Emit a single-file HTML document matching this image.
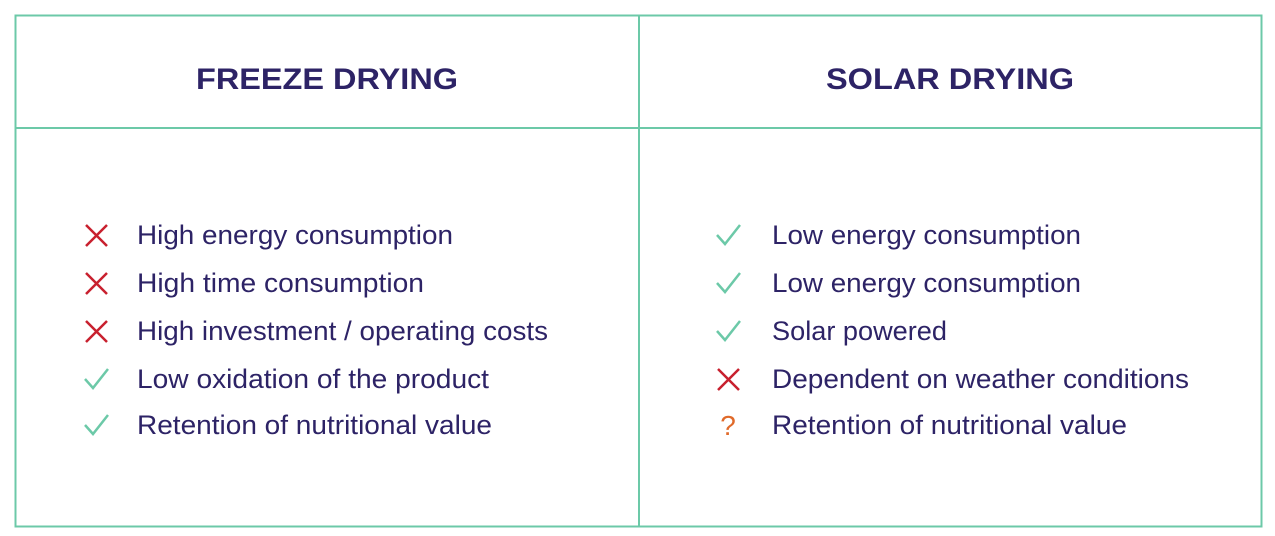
<!DOCTYPE html>
<html><head><style>body{margin:0;background:#fff}svg{display:block}</style></head><body>
<svg width="1275" height="536" xmlns="http://www.w3.org/2000/svg" font-family="Liberation Sans, sans-serif">
<rect x="15.5" y="15.5" width="1246" height="511" fill="none" stroke="#6cc9a8" stroke-width="2"/>
<line x1="15" y1="128" x2="1262" y2="128" stroke="#6cc9a8" stroke-width="2"/>
<line x1="639" y1="15" x2="639" y2="527" stroke="#6cc9a8" stroke-width="2"/>
<g fill="#2d2366" font-weight="bold" font-size="30">
<text x="196" y="89" textLength="262" lengthAdjust="spacingAndGlyphs">FREEZE DRYING</text>
<text x="826" y="89" textLength="248" lengthAdjust="spacingAndGlyphs">SOLAR DRYING</text>
</g>
<g fill="#2d2366" font-size="27">
<text x="137" y="244" textLength="316" lengthAdjust="spacingAndGlyphs">High energy consumption</text>
<text x="137" y="292" textLength="287" lengthAdjust="spacingAndGlyphs">High time consumption</text>
<text x="137" y="340" textLength="411" lengthAdjust="spacingAndGlyphs">High investment / operating costs</text>
<text x="137" y="388" textLength="352" lengthAdjust="spacingAndGlyphs">Low oxidation of the product</text>
<text x="137" y="434" textLength="355" lengthAdjust="spacingAndGlyphs">Retention of nutritional value</text>
<text x="772" y="244" textLength="309" lengthAdjust="spacingAndGlyphs">Low energy consumption</text>
<text x="772" y="292" textLength="309" lengthAdjust="spacingAndGlyphs">Low energy consumption</text>
<text x="772" y="340" textLength="175" lengthAdjust="spacingAndGlyphs">Solar powered</text>
<text x="772" y="388" textLength="417" lengthAdjust="spacingAndGlyphs">Dependent on weather conditions</text>
<text x="772" y="434" textLength="355" lengthAdjust="spacingAndGlyphs">Retention of nutritional value</text>
</g>
<g stroke="#c8202e" stroke-width="2.5" fill="none">
<path d="M86 225L107 246M107 225L86 246"/>
<path d="M86 273L107 294M107 273L86 294"/>
<path d="M86 321L107 342M107 321L86 342"/>
<path d="M718 369L739 390M739 369L718 390"/>
</g>
<g stroke="#6cc9a8" stroke-width="2.5" fill="none">
<path d="M85 379L93 388L108 369"/>
<path d="M85 425L93 434L108 415"/>
<path d="M717 235L725 244L740 225"/>
<path d="M717 283L725 292L740 273"/>
<path d="M717 331L725 340L740 321"/>
</g>
<text x="728" y="435" fill="#e06a2a" font-size="28" text-anchor="middle">?</text>
</svg>
</body></html>
